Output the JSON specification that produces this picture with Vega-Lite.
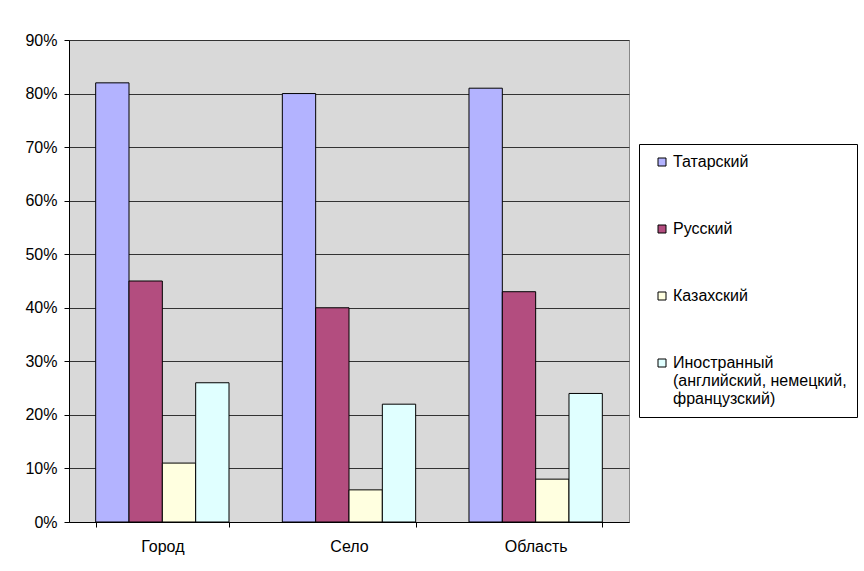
{
  "$schema": "https://vega.github.io/schema/vega-lite/v6.json",
  "width": 560,
  "height": 482,
  "autosize": {"type": "none"},
  "padding": {"left": 69, "top": 40, "right": 235, "bottom": 49},
  "background": "white",
  "config": {
    "font": "Liberation Sans",
    "view": {"fill": "#D9D9D9", "stroke": "#888888", "strokeWidth": 1},
    "style": {"guide-label": {"lineHeight": 18}}
  },
  "data": {
    "values": [
      {"place": "Город", "lang": "Татарский", "share": 0.82},
      {"place": "Город", "lang": "Русский", "share": 0.45},
      {"place": "Город", "lang": "Казахский", "share": 0.11},
      {"place": "Город", "lang": "Иностранный (английский, немецкий, французский)", "share": 0.26},
      {"place": "Село", "lang": "Татарский", "share": 0.80},
      {"place": "Село", "lang": "Русский", "share": 0.40},
      {"place": "Село", "lang": "Казахский", "share": 0.06},
      {"place": "Село", "lang": "Иностранный (английский, немецкий, французский)", "share": 0.22},
      {"place": "Область", "lang": "Татарский", "share": 0.81},
      {"place": "Область", "lang": "Русский", "share": 0.43},
      {"place": "Область", "lang": "Казахский", "share": 0.08},
      {"place": "Область", "lang": "Иностранный (английский, немецкий, французский)", "share": 0.24}
    ]
  },
  "mark": {"type": "bar", "stroke": "black", "strokeWidth": 1},
  "encoding": {
    "x": {
      "field": "place",
      "type": "nominal",
      "sort": ["Город", "Село", "Область"],
      "scale": {"paddingInner": 0.2857, "paddingOuter": 0.1429},
      "axis": {
        "title": null,
        "labelAngle": 0,
        "labelFontSize": 16,
        "labelColor": "black",
        "labelPadding": 11,
        "tickBand": "extent",
        "tickSize": 5,
        "tickColor": "black",
        "domainColor": "black",
        "grid": false
      }
    },
    "xOffset": {
      "field": "lang",
      "type": "nominal",
      "sort": ["Татарский", "Русский", "Казахский", "Иностранный (английский, немецкий, французский)"],
      "scale": {"paddingInner": 0, "paddingOuter": 0}
    },
    "y": {
      "field": "share",
      "type": "quantitative",
      "scale": {"domain": [0, 0.9], "nice": false},
      "axis": {
        "title": null,
        "format": ".0%",
        "values": [0, 0.1, 0.2, 0.3, 0.4, 0.5, 0.6, 0.7, 0.8, 0.9],
        "labelFontSize": 16,
        "labelColor": "black",
        "labelPadding": 7,
        "tickSize": 5,
        "tickColor": "black",
        "domainColor": "black",
        "grid": true,
        "gridColor": "#333333",
        "gridOpacity": 1,
        "gridWidth": 1
      }
    },
    "color": {
      "field": "lang",
      "type": "nominal",
      "scale": {
        "domain": ["Татарский", "Русский", "Казахский", "Иностранный (английский, немецкий, французский)"],
        "range": ["#B3B3FF", "#B34D7F", "#FFFFE0", "#E0FFFF"]
      },
      "legend": {
        "title": null,
        "orient": "none",
        "legendX": 570,
        "legendY": 104,
        "fillColor": "white",
        "strokeColor": "black",
        "padding": 10,
        "symbolOffset": 5,
        "symbolType": "square",
        "symbolSize": 64,
        "symbolStrokeColor": "black",
        "symbolStrokeWidth": 1,
        "symbolOpacity": 1,
        "labelFontSize": 16,
        "labelColor": "black",
        "labelOffset": 3,
        "labelLimit": 300,
        "rowPadding": 51,
        "labelExpr": "indexof(datum.label, 'Иностранный') == 0 ? ['Иностранный', '(английский, немецкий,', 'французский)'] : datum.label"
      }
    }
  }
}
